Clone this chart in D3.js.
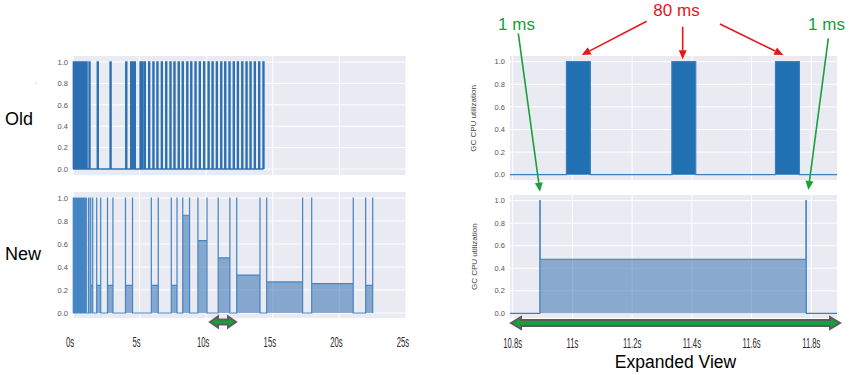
<!DOCTYPE html>
<meta charset="utf-8">
<style>
body { margin: 0; background: #fff; }
text { font-family: "Liberation Sans", Arial, sans-serif; }
.ytick { font-size: 7.5px; fill: #555; }
.xtick { font-size: 14px; fill: #2a2a2a; }
.ylab { font-size: 8px; fill: #444; }
</style>
<body>
<div id="chart"></div>
<script src="https://cdnjs.cloudflare.com/ajax/libs/d3/7.8.5/d3.min.js"></script>
<script>

var yTicks = [0, 0.2, 0.4, 0.6, 0.8, 1.0];
var fullTicks = [0, 5, 10, 15, 20, 25];
var zoomTicks = [10.8, 11.0, 11.2, 11.4, 11.6, 11.8];

// old collector: start of each stop-the-world pause (s), each 80 ms long
var oldStart = [0.02, 0.12, 0.22, 0.32, 0.42, 0.52, 0.62, 0.72, 0.82, 0.98, 1.2, 1.82, 2.78,
    3.96, 4.33, 4.47, 4.6, 5.03, 5.16, 5.35, 5.68, 6.0, 6.3, 6.63, 6.96, 7.28, 7.58, 7.9,
    8.2, 8.54, 8.84, 9.16, 9.48, 9.81, 10.14, 10.44, 10.76, 11.09, 11.39, 11.71, 12.03,
    12.34, 12.67, 12.99, 13.29, 13.61, 13.94, 14.26];
var oldDur = 0.08;

// new collector: cycle start, end and utilization between the 1 ms spikes
var newStart = [0.02, 0.1, 0.18, 0.26, 0.34, 0.48, 0.56, 0.64, 0.72, 0.8, 0.9, 1.16, 1.33,
    1.78, 2.59, 3.94, 5.88, 7.38, 8.24, 9.38, 10.9, 12.29, 14.54, 17.92, 21.97];
var newEnd = [0.07, 0.15, 0.23, 0.31, 0.4, 0.53, 0.61, 0.69, 0.77, 0.86, 1.0, 1.2, 1.48,
    2.08, 3.0, 4.47, 6.4, 7.81, 8.75, 10.06, 11.78, 14.04, 17.24, 21.04, 22.5];
var newLevel = [1, 1, 1, 1, 1, 1, 1, 1, 1, 1, 1, 1, 0.24,
    0.24, 0.24, 0.24, 0.24, 0.24, 0.85, 0.63, 0.48, 0.33, 0.27, 0.255, 0.24];
var spike = 0.001;

// expanded view, 10.8s - 11.9s
var zoomOldStart = [10.98, 11.333, 11.68];
var zoomNewStart = [10.891];
var zoomNewEnd = [11.783];
var zoomNewLevel = [0.48];

var svg = d3.select("#chart").append("svg")
    .attr("width", 853)
    .attr("height", 375);

function pauses(starts, dur, x0, x1) {
    var p = [[x0, 0]];
    starts.forEach(function(s) {
        p.push([s, 0], [s, 1], [s + dur, 1], [s + dur, 0]);
    });
    p.push([x1, 0]);
    return p;
}

function cycles(starts, ends, levels, x0, x1) {
    var p = [[x0, 0]];
    starts.forEach(function(s, i) {
        var e = ends[i], l = levels[i];
        p.push([s, 0], [s, 1], [s + spike, 1], [s + spike, l],
               [e - spike, l], [e - spike, 1], [e, 1], [e, 0]);
    });
    p.push([x1, 0]);
    return p;
}

// one panel: background, grid, y tick labels
function panel(box, xdom, xticks, ypos) {
    var x = d3.scaleLinear().domain(xdom).range([box.x0, box.x1]);
    var y = d3.scaleLinear().domain([0, 1]).range(ypos);
    var g = svg.append("g");
    g.append("rect")
        .attr("x", box.x0).attr("y", box.y0)
        .attr("width", box.x1 - box.x0).attr("height", box.y1 - box.y0)
        .attr("fill", "#eaeaf2");
    g.selectAll(".hg").data(yTicks).enter().append("line")
        .attr("x1", box.x0).attr("x2", box.x1)
        .attr("y1", function(d) { return y(d); }).attr("y2", function(d) { return y(d); })
        .attr("stroke", "#fff").attr("stroke-width", 1);
    g.selectAll(".vg").data(xticks).enter().append("line")
        .attr("x1", function(d) { return x(d); }).attr("x2", function(d) { return x(d); })
        .attr("y1", box.y0).attr("y2", box.y1)
        .attr("stroke", "#fff").attr("stroke-width", 1);
    g.selectAll(".yt").data(yTicks).enter().append("text")
        .attr("class", "ytick")
        .attr("x", box.x0 - 5)
        .attr("y", function(d) { return y(d) + 2.7; })
        .attr("text-anchor", "end")
        .text(function(d) { return d3.format(".1f")(d); });
    return { g: g, x: x, y: y };
}

function draw(p, pts, stroke, fill, sw) {
    var area = d3.area()
        .x(function(d) { return p.x(d[0]); })
        .y0(p.y(0))
        .y1(function(d) { return p.y(d[1]); });
    var line = d3.line()
        .x(function(d) { return p.x(d[0]); })
        .y(function(d) { return p.y(d[1]); });
    p.g.append("path").attr("d", area(pts)).attr("fill", fill);
    p.g.append("path").attr("d", line(pts))
        .attr("fill", "none").attr("stroke", stroke).attr("stroke-width", sw);
}

function xLabels(p, ticks, yb, fmt, dx) {
    p.g.selectAll(".xt").data(ticks).enter().append("text")
        .attr("class", "xtick")
        .attr("text-anchor", "middle")
        .attr("transform", function(d) {
            return "translate(" + (p.x(d) + dx) + "," + yb + ") scale(0.55,1)";
        })
        .text(fmt);
}

function yTitle(cx, cy) {
    svg.append("text").attr("class", "ylab")
        .attr("text-anchor", "middle")
        .attr("transform", "translate(" + cx + "," + cy + ") rotate(-90)")
        .text("GC CPU utilization");
}

function dblArrow(x1, x2, cy, head, hh, sh) {
    var pts = [[x1, cy], [x1 + head, cy - hh], [x1 + head, cy - sh], [x2 - head, cy - sh],
        [x2 - head, cy - hh], [x2, cy], [x2 - head, cy + hh], [x2 - head, cy + sh],
        [x1 + head, cy + sh], [x1 + head, cy + hh]];
    svg.append("polygon")
        .attr("points", pts.map(function(d) { return d.join(","); }).join(" "))
        .attr("fill", "#16a03a").attr("stroke", "#5c5c5c").attr("stroke-width", 2);
}

function pointer(x1, y1, x2, y2, color) {
    var a = Math.atan2(y2 - y1, x2 - x1), L = 9, W = 4;
    var bx = x2 - L * Math.cos(a), by = y2 - L * Math.sin(a);
    svg.append("line").attr("x1", x1).attr("y1", y1).attr("x2", bx).attr("y2", by)
        .attr("stroke", color).attr("stroke-width", 1.6);
    var pts = [[x2, y2],
        [bx + W * Math.sin(a), by - W * Math.cos(a)],
        [bx - W * Math.sin(a), by + W * Math.cos(a)]];
    svg.append("polygon").attr("points", pts.map(function(d) { return d.join(","); }).join(" "))
        .attr("fill", color);
}

// ---- left: full run ----
var oldP = panel({ x0: 73, x1: 406, y0: 56, y1: 175 }, [0, 25], fullTicks, [169, 62]);
draw(oldP, pauses(oldStart, oldDur, 0, oldStart[oldStart.length - 1] + oldDur),
    "#2a70b3", "rgba(31,100,170,0.55)", 1.3);

var newP = panel({ x0: 73, x1: 406, y0: 192, y1: 318 }, [0, 25], fullTicks, [313, 198]);
draw(newP, cycles(newStart, newEnd, newLevel, 0, newEnd[newEnd.length - 1]),
    "#4585c3", "rgba(31,99,168,0.5)", 1.2);
xLabels(newP, fullTicks, 347, function(d) { return d + "s"; }, -3);

svg.append("text").attr("x", 5).attr("y", 124.5)
    .style("font-size", "18px").attr("fill", "#000").text("Old");
svg.append("text").attr("x", 5).attr("y", 260)
    .style("font-size", "18px").attr("fill", "#000").text("New");
svg.append("text").attr("x", 35).attr("y", 85)
    .style("font-size", "7px").attr("fill", "#bbb").text("-");

dblArrow(210, 236, 322, 8, 5.5, 2.5);

// ---- right: expanded view ----
var zDom = [10.791, 11.886];
var zOld = panel({ x0: 510, x1: 837, y0: 56, y1: 180 }, zDom, zoomTicks, [174.7, 61.7]);
draw(zOld, pauses(zoomOldStart, oldDur, zDom[0], zDom[1]), "#3a7fc0", "#2170b2", 1.2);

var zNew = panel({ x0: 510, x1: 837, y0: 195, y1: 318 }, zDom, zoomTicks, [313.3, 200.7]);
draw(zNew, cycles(zoomNewStart, zoomNewEnd, zoomNewLevel, zDom[0], zDom[1]),
    "#3a7fc0", "rgba(31,99,168,0.48)", 1.2);
xLabels(zNew, zoomTicks, 348, function(d) { return (d === 11 ? "11" : d3.format(".1f")(d)) + "s"; }, 0);

yTitle(476, 118.5);
yTitle(477, 256.7);

dblArrow(511, 840, 323, 10, 6, 3);

svg.append("text").attr("x", 675.5).attr("y", 368)
    .attr("text-anchor", "middle")
    .style("font-size", "17.5px").attr("fill", "#000").text("Expanded View");

// annotations
svg.append("text").attr("x", 676.5).attr("y", 15.5).attr("text-anchor", "middle")
    .style("font-size", "17px").attr("fill", "#e8161b").text("80 ms");
svg.append("text").attr("x", 516.5).attr("y", 30).attr("text-anchor", "middle")
    .style("font-size", "17px").attr("fill", "#1a9c3c").text("1 ms");
svg.append("text").attr("x", 826.5).attr("y", 30).attr("text-anchor", "middle")
    .style("font-size", "17px").attr("fill", "#1a9c3c").text("1 ms");

pointer(646.7, 21.3, 581.7, 55, "#e8161b");
pointer(682.7, 26.7, 682.7, 59.3, "#e8161b");
pointer(720, 24, 783.3, 55, "#e8161b");
pointer(518.3, 33.3, 540, 191.7, "#1ca03f");
pointer(828.3, 38.3, 808.3, 190, "#1ca03f");

</script>
</body>
